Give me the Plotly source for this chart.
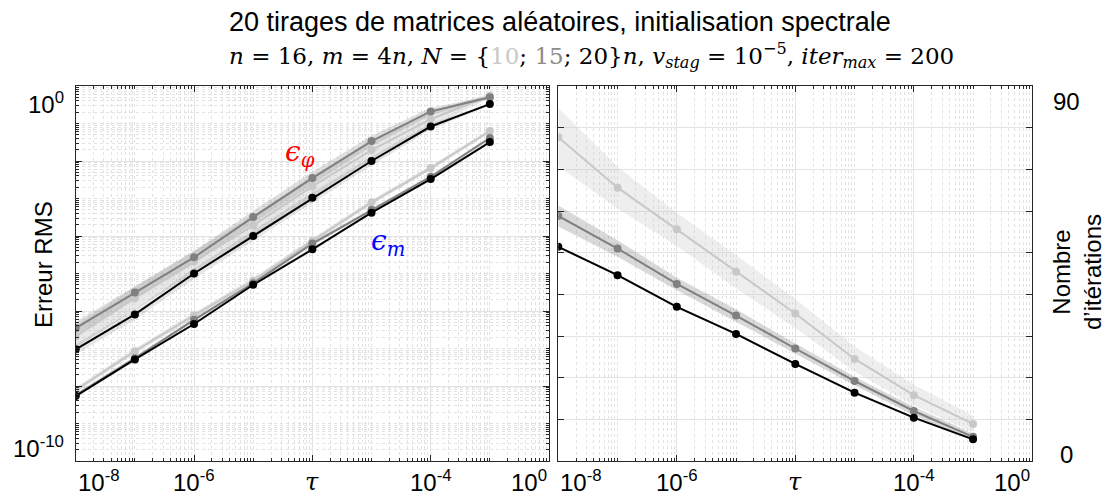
import plotly.graph_objects as go
import math

W, H = 1115, 497
OFF = 8  # default page body margin
FW, FH = W - OFF, H - OFF

# ---------------- data ----------------
tau = [1e-8, 1e-7, 1e-6, 1e-5, 1e-4, 1e-3, 1e-2, 1e-1]

# RMS error on phase (epsilon_phi), per N = 10n, 15n, 20n
eps_phi_N10 = [2.1e-7, 2.2e-6, 2.1e-5, 1.9e-4, 2.1e-3, 1.95e-2, 1.3e-1, 5.5e-1]
eps_phi_N15 = [3.5e-7, 3.1e-6, 2.7e-5, 3.2e-4, 3.5e-3, 3.4e-2, 2.1e-1, 5.0e-1]
eps_phi_N20 = [9.5e-8, 8.1e-7, 1.0e-5, 1.0e-4, 1.05e-3, 1.0e-2, 8.3e-2, 3.3e-1]
# RMS error on modulus (epsilon_m)
eps_m_N10 = [7.8e-9, 8.5e-8, 7.6e-7, 6.5e-6, 7.4e-5, 7.9e-4, 6.5e-3, 6.3e-2]
eps_m_N15 = [5.6e-9, 5.5e-8, 5.8e-7, 5.5e-6, 6.3e-5, 5.0e-4, 3.8e-3, 4.1e-2]
eps_m_N20 = [5.4e-9, 5.1e-8, 4.5e-7, 5.0e-6, 4.4e-5, 4.2e-4, 3.3e-3, 3.2e-2]
# dispersion (in decades) of the errors over the 20 draws
phi_spread_N10 = [0.30, 0.30, 0.28, 0.28, 0.28, 0.25, 0.20, 0.06]
phi_spread_N15 = [0.17, 0.17, 0.17, 0.17, 0.17, 0.14, 0.10, 0.04]
phi_spread_N20 = [0.14, 0.14, 0.14, 0.14, 0.14, 0.12, 0.08, 0.03]
m_spread_N10 = [0.07, 0.07, 0.07, 0.07, 0.07, 0.06, 0.06, 0.05]
m_spread_N15 = [0.05, 0.05, 0.05, 0.05, 0.05, 0.05, 0.05, 0.04]
m_spread_N20 = [0.03, 0.03, 0.03, 0.03, 0.03, 0.03, 0.03, 0.03]

# number of iterations
iter_N10 = [77.7, 65.6, 55.6, 45.4, 35.4, 24.5, 15.8, 8.9]
iter_N15 = [58.8, 51.0, 42.5, 34.9, 27.0, 19.2, 12.0, 5.8]
iter_N20 = [51.4, 44.6, 37.0, 30.5, 23.3, 16.4, 10.4, 5.2]
iter_sd_N10 = [7.0, 5.0, 4.0, 4.0, 3.5, 3.0, 2.5, 2.0]
iter_sd_N15 = [2.5, 2.0, 1.5, 1.5, 1.2, 1.0, 1.0, 0.8]
iter_sd_N20 = [0.3, 0.3, 0.3, 0.3, 0.3, 0.3, 0.3, 0.3]

# tick labels (as drawn in the reference)
x_tick_vals = [1e-8, 1e-6, 1e-2, 1e0]
x_tick_text = ["10<sup>-8</sup>", "10<sup>-6</sup>", "10<sup>-4</sup>", "10<sup>0</sup>"]
x_title_val = 1e-4
x_title = "<i>τ</i>"
y1_tick_vals = [1e0, 1e-10]
y1_tick_text = ["10<sup>0</sup>", "10<sup>-10</sup>"]
y2_tick_vals = [90, 0]
y2_tick_text = ["90", "0"]

title_line1 = "20 tirages de matrices aléatoires, initialisation spectrale"
title_line2 = ("<i>n</i> = 16, <i>m</i> = 4<i>n</i>, <i>N</i> = {"
               "<span style='color:#c8c8c8'>10</span>; "
               "<span style='color:#8c8c8c'>15</span>; 20}<i>n</i>, "
               "<i>v<sub>stag</sub></i> = 10<sup>−5</sup>, "
               "<i>iter<sub>max</sub></i> = 200")

# ---------------- style ----------------
C_N10, C_N15, C_N20 = "#c8c8c8", "#808080", "#000000"
F_N10 = "rgba(190,190,190,0.35)"
F_N15 = "rgba(140,140,140,0.28)"
F_N20 = "rgba(60,60,60,0.12)"
AX = "#262626"
FONT = "Liberation Sans, Arial, sans-serif"
MATH = "DejaVu Serif, serif"


def px(xp):
    return (xp - OFF) / FW


def py(yp):
    return 1 - (yp - OFF) / FH


fig = go.Figure()


def band_log(x, y, spread, fill, xa, ya):
    up = [v * 10 ** s for v, s in zip(y, spread)]
    lo = [v / 10 ** s for v, s in zip(y, spread)]
    fig.add_trace(go.Scatter(x=x + x[::-1], y=up + lo[::-1], fill="toself",
                             fillcolor=fill, line=dict(width=0), mode="lines",
                             hoverinfo="skip", showlegend=False, xaxis=xa, yaxis=ya))


def band_lin(x, y, sd, fill, xa, ya):
    up = [v + s for v, s in zip(y, sd)]
    lo = [v - s for v, s in zip(y, sd)]
    fig.add_trace(go.Scatter(x=x + x[::-1], y=up + lo[::-1], fill="toself",
                             fillcolor=fill, line=dict(width=0), mode="lines",
                             hoverinfo="skip", showlegend=False, xaxis=xa, yaxis=ya))


def curve(x, y, color, xa, ya):
    fig.add_trace(go.Scatter(x=x, y=y, mode="lines+markers",
                             line=dict(color=color, width=2),
                             marker=dict(color=color, size=8),
                             showlegend=False, xaxis=xa, yaxis=ya))


# left panel
for y, sp, f in [(eps_phi_N10, phi_spread_N10, F_N10), (eps_phi_N15, phi_spread_N15, F_N15),
                 (eps_phi_N20, phi_spread_N20, F_N20), (eps_m_N10, m_spread_N10, F_N10),
                 (eps_m_N15, m_spread_N15, F_N15), (eps_m_N20, m_spread_N20, F_N20)]:
    band_log(tau, y, sp, f, "x", "y")
for y, c in [(eps_phi_N10, C_N10), (eps_phi_N15, C_N15), (eps_phi_N20, C_N20),
             (eps_m_N10, C_N10), (eps_m_N15, C_N15), (eps_m_N20, C_N20)]:
    curve(tau, y, c, "x", "y")

# right panel
for y, sd, f in [(iter_N10, iter_sd_N10, "rgba(200,200,200,0.3)"),
                 (iter_N15, iter_sd_N15, "rgba(128,128,128,0.3)"),
                 (iter_N20, iter_sd_N20, F_N20)]:
    band_lin(tau, y, sd, f, "x2", "y2")
for y, c in [(iter_N10, C_N10), (iter_N15, C_N15), (iter_N20, C_N20)]:
    curve(tau, y, c, "x2", "y2")

minor_x = [k * 10.0 ** e for e in range(-8, 0) for k in range(1, 10) if not (k == 1 and e % 2 == 0)]
minor_y = [k * 10.0 ** e for e in range(-10, 0) for k in range(1, 10) if not (k == 1 and e % 2 == 0)]

MINOR_GRID = "#e2e2e2"
common_axis = dict(showline=True, linecolor=AX, linewidth=1.2, mirror="allticks",
                   ticks="inside", ticklen=6, tickcolor=AX, showticklabels=False,
                   gridcolor="#e3e3e3", gridwidth=1, zeroline=False)
log_x = dict(type="log", range=[-8, 0], dtick=2,
             minor=dict(tickmode="array", tickvals=minor_x, ticks="inside", ticklen=3,
                        tickcolor=AX, showgrid=True, gridcolor=MINOR_GRID, griddash="dot",
                        gridwidth=1), **common_axis)

Y_DOM = [py(461), py(86)]
fig.update_layout(
    width=FW, height=FH, margin=dict(l=0, r=0, t=0, b=0),
    paper_bgcolor="white", plot_bgcolor="white", showlegend=False,
    font=dict(family=FONT, color="#000", size=24),
    xaxis=dict(domain=[px(75.7), px(549)], anchor="y", **log_x),
    xaxis2=dict(domain=[px(558.3), px(1032.3)], anchor="y2", **log_x),
    yaxis=dict(domain=Y_DOM, anchor="x", type="log", range=[-10, 0], dtick=2,
               minor=dict(tickmode="array", tickvals=minor_y, ticks="inside", ticklen=3,
                          tickcolor=AX, showgrid=True, gridcolor=MINOR_GRID, griddash="dot",
                          gridwidth=1), **common_axis),
    yaxis2=dict(domain=Y_DOM, anchor="x2", range=[0, 90], dtick=10, **common_axis),
)

ann = []
# x tick labels for both panels
for xa in ["x", "x2"]:
    n = len(x_tick_vals)
    for i, (v, t) in enumerate(zip(x_tick_vals, x_tick_text)):
        anchor = "left" if i == 0 else ("right" if i == n - 1 else "center")
        ann.append(dict(x=math.log10(v), xref=xa, y=py(481), yref="paper", text=t,
                        showarrow=False, xanchor=anchor, yanchor="middle",
                        font=dict(size=24, family=FONT)))
    ann.append(dict(x=math.log10(x_title_val), xref=xa, y=py(482), yref="paper",
                    text=x_title, showarrow=False, xanchor="center", yanchor="middle",
                    font=dict(size=24, family=MATH)))
# left y tick labels
for v, t, ya, sh in zip(y1_tick_vals, y1_tick_text, ["top", "bottom"], [0, -3]):
    ann.append(dict(x=px(66), xref="paper", y=math.log10(v), yref="y", text=t,
                    showarrow=False, xanchor="right", yanchor=ya, yshift=sh,
                    font=dict(size=24, family=FONT)))
# right y tick labels
for v, t, ya, sh in zip(y2_tick_vals, y2_tick_text, ["top", "bottom"], [0, -9]):
    ann.append(dict(x=px(1066), xref="paper", y=v, yref="y2", text=t,
                    showarrow=False, xanchor="center", yanchor=ya, yshift=sh,
                    font=dict(size=24, family=FONT)))
# axis titles
ann.append(dict(x=px(43), xref="paper", y=py(265), yref="paper", text="Erreur RMS",
                textangle=-90, showarrow=False, xanchor="center", yanchor="middle",
                font=dict(size=24, family=FONT)))
ann.append(dict(x=px(1077), xref="paper", y=py(272), yref="paper",
                text="Nombre<br>d’itérations", textangle=-90, showarrow=False,
                xanchor="center", yanchor="middle", font=dict(size=24, family=FONT)))
# titles
ann.append(dict(x=px(560), xref="paper", y=py(22), yref="paper", text=title_line1,
                showarrow=False, xanchor="center", yanchor="middle",
                font=dict(size=27, family=FONT)))
ann.append(dict(x=px(591), xref="paper", y=py(56), yref="paper", text=title_line2,
                showarrow=False, xanchor="center", yanchor="middle",
                font=dict(size=23, family=MATH)))
# curve labels
ann.append(dict(x=-4.21, xref="x", y=-1.80, yref="y", text="<i>ϵ<sub>φ</sub></i>",
                showarrow=False, font=dict(size=28, family=MATH, color="#ff0000")))
ann.append(dict(x=-2.72, xref="x", y=-4.16, yref="y", text="<i>ϵ<sub>m</sub></i>",
                showarrow=False, font=dict(size=28, family=MATH, color="#0000ff")))

fig.update_layout(annotations=ann)
fig.write_html("out.html")
